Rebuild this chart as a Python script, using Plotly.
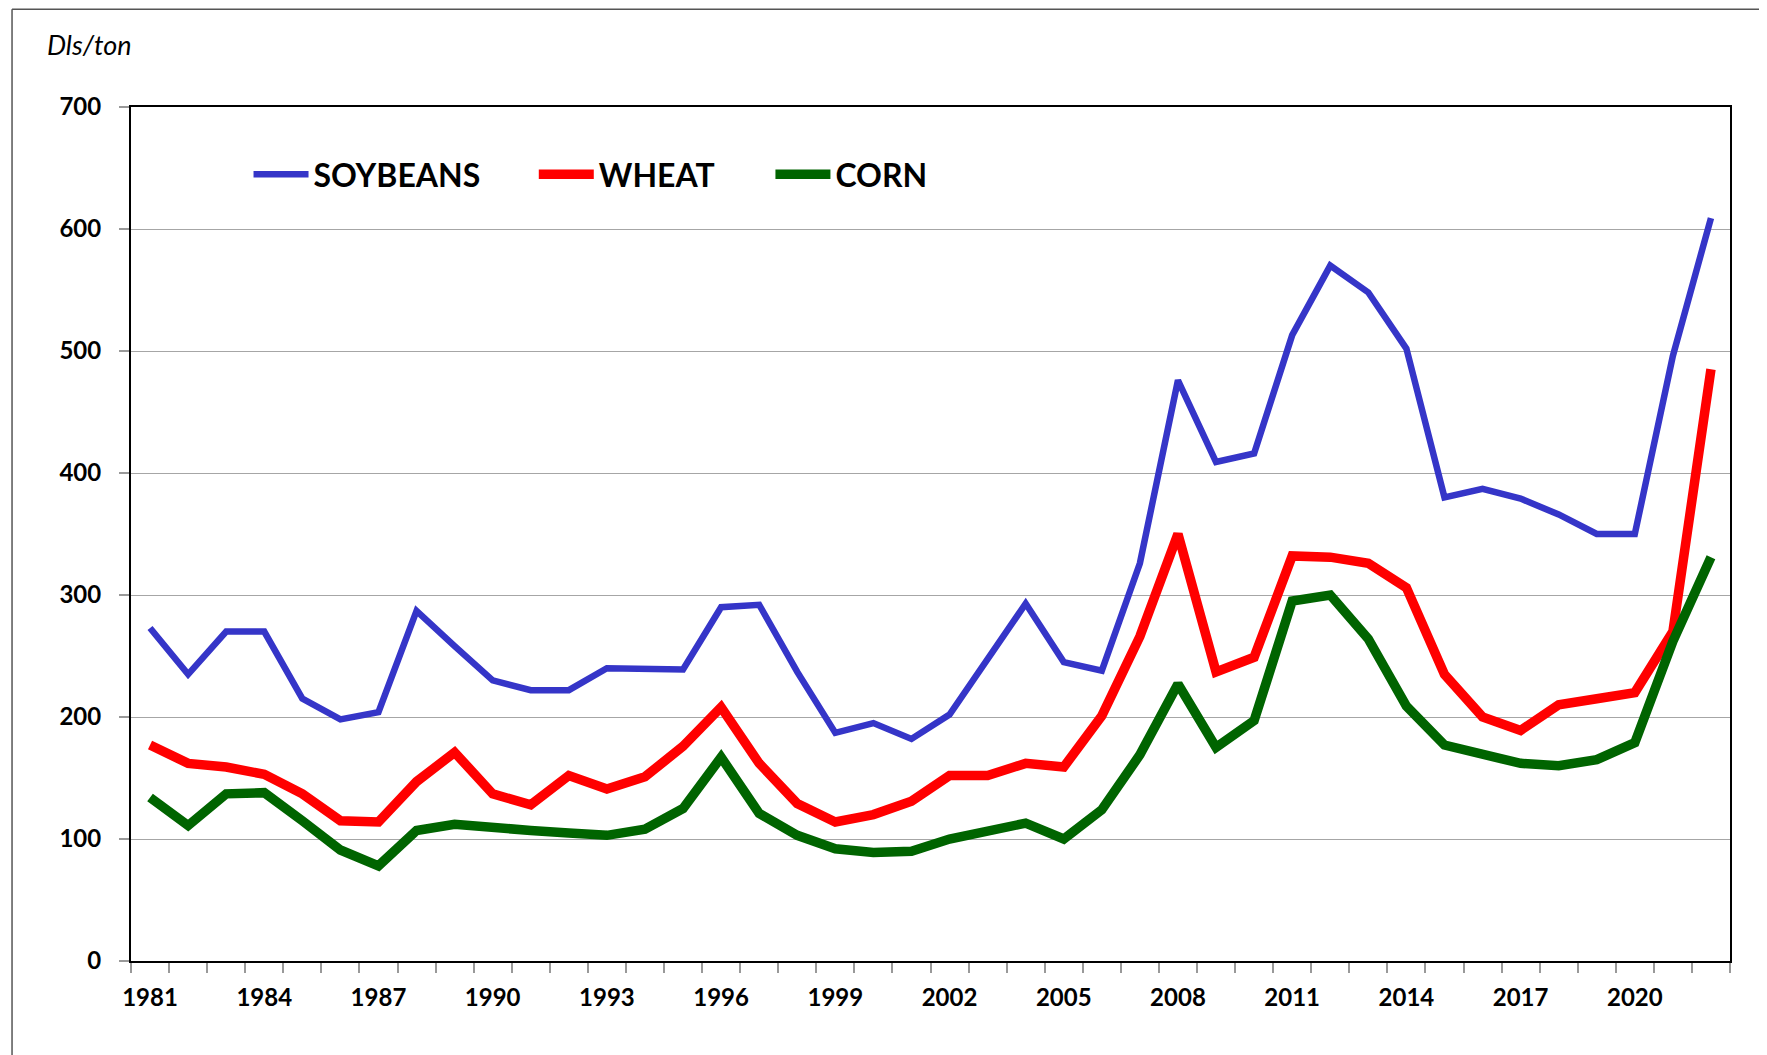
import plotly.graph_objects as go

years = list(range(1981, 2023))
soybeans = [273, 235, 270, 270, 215, 198, 204, 287, 258, 230, 222, 222, 240, 240, 239,
            290, 292, 237, 187, 195, 182, 202, 247, 293, 245, 238, 326, 476, 409, 416,
            513, 570, 548, 502, 380, 387, 379, 366, 350, 350, 496, 609]
wheat = [177, 162, 159, 153, 137, 115, 114, 147, 171, 137, 128, 152, 141, 151, 176,
         208, 162, 129, 114, 120, 131, 152, 152, 162, 159, 201, 266, 350, 237, 249,
         332, 331, 326, 306, 235, 200, 189, 210, 215, 220, 270, 485]
corn = [134, 111, 137, 138, 115, 91, 78, 107, 112, 109, 107, 105, 103, 108, 125,
        167, 121, 103, 92, 89, 90, 100, 106, 113, 100, 124, 169, 227, 175, 197,
        295, 300, 264, 209, 177, 169, 162, 160, 165, 179, 262, 331]
tick_years = list(range(1981, 2023, 3))
y_ticks = list(range(0, 701, 100))

FONT = "Lato"

fig = go.Figure()
fig.add_trace(go.Scatter(x=years, y=soybeans, mode="lines", name="SOYBEANS",
                         line=dict(color="#3535C8", width=6.5), legend="legend"))
fig.add_trace(go.Scatter(x=years, y=wheat, mode="lines", name="WHEAT",
                         line=dict(color="#FF0000", width=9.5), legend="legend2"))
fig.add_trace(go.Scatter(x=years, y=corn, mode="lines", name="CORN",
                         line=dict(color="#006400", width=9.5), legend="legend3"))

legend_common = dict(orientation="h", yanchor="middle", xanchor="left", y=0.921,
                     font=dict(size=32, family=FONT, weight="bold", color="black"),
                     bgcolor="rgba(0,0,0,0)", itemwidth=55)

fig.update_layout(
    width=1767, height=1055,
    paper_bgcolor="white", plot_bgcolor="white",
    margin=dict(l=123, r=45, t=99, b=102),
    font=dict(family=FONT, color="black"),
    showlegend=True,
    legend=dict(x=0.0735, **legend_common),
    legend2=dict(x=0.2519, **legend_common),
    legend3=dict(x=0.3999, **legend_common),
)
fig.update_xaxes(
    range=[1980.5, 2022.5], tickmode="array", tickvals=tick_years,
    ticktext=[str(y) for y in tick_years], ticks="", showgrid=False,
    tickfont=dict(size=24, family=FONT, weight="bold"),
    showline=True, linecolor="black", linewidth=2, mirror=True, zeroline=False,
    minor=dict(ticks="outside", tickmode="linear", tick0=1980.5, dtick=1,
               ticklen=10, tickcolor="#999999", tickwidth=1.5, showgrid=False),
    ticklabelstandoff=14,
)
fig.update_yaxes(
    range=[0, 700], tickmode="array", tickvals=y_ticks, ticks="outside", ticklen=10,
    tickcolor="#999999", tickwidth=1.5, showgrid=True, gridcolor="#A6A6A6", gridwidth=1,
    tickfont=dict(size=24, family=FONT, weight="bold"),
    showline=True, linecolor="black", linewidth=2, mirror=True, zeroline=False,
    ticklabelstandoff=13,
)

fig.add_annotation(text="<i>Dls/ton</i>", xref="paper", yref="paper",
                   x=-0.0538, y=1.0726, xanchor="left", yanchor="middle",
                   showarrow=False, font=dict(size=27, family=FONT, color="black"))

# outer frame
fig.add_shape(type="line", xref="paper", yref="paper", x0=-0.0744, x1=1.05,
              y0=1.1145, y1=1.1145, line=dict(color="#555555", width=1.5))
fig.add_shape(type="line", xref="paper", yref="paper", x0=-0.0744, x1=-0.0744,
              y0=1.1145, y1=-0.2, line=dict(color="#555555", width=1.5))

fig.write_html("out.html")
